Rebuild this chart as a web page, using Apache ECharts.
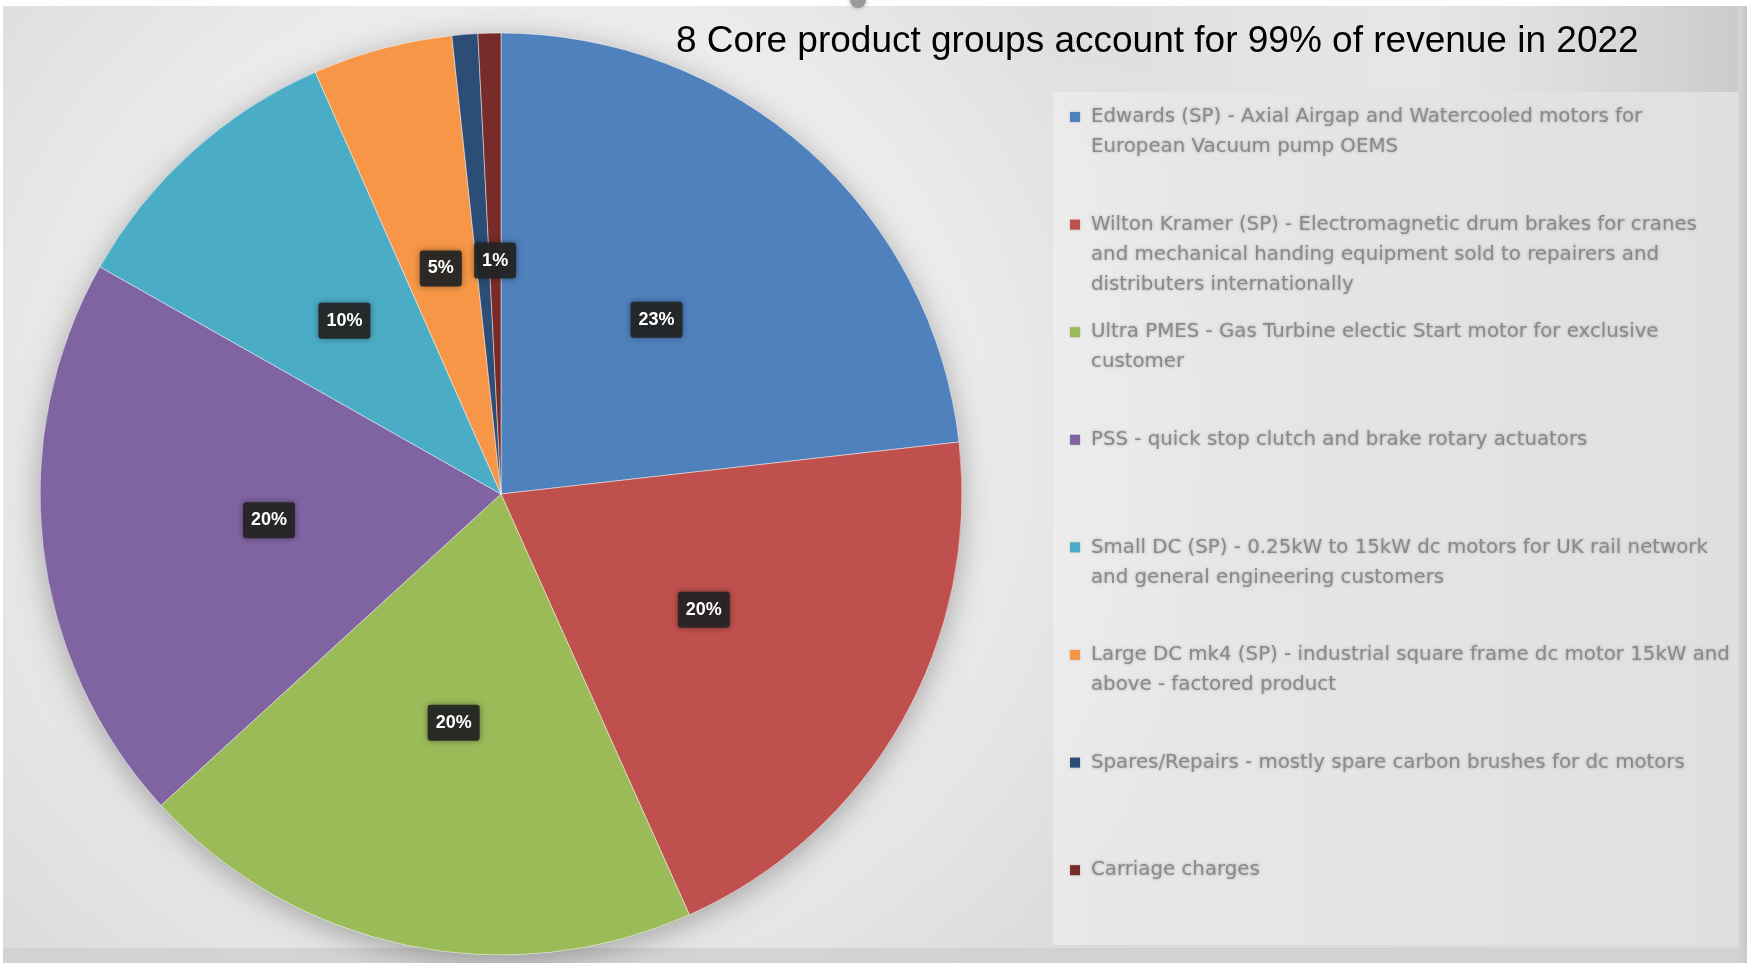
<!DOCTYPE html>
<html><head><meta charset="utf-8">
<script src="https://cdn.jsdelivr.net/npm/echarts@6/dist/echarts.min.js"></script>
<style>html,body{margin:0;padding:0;background:#fff;}#c{width:1747px;height:963px;}</style>
</head><body><div id="c"></div>
<script>
const titleText = '8 Core product groups account for 99% of revenue in 2022';
const categories = [
  'Edwards (SP) - Axial Airgap and Watercooled motors for\nEuropean Vacuum pump OEMS',
  'Wilton Kramer (SP) - Electromagnetic drum brakes for cranes\nand mechanical handing equipment sold to repairers and\ndistributers internationally',
  'Ultra PMES - Gas Turbine electic Start motor for exclusive\ncustomer',
  'PSS - quick stop clutch and brake rotary actuators',
  'Small DC (SP) - 0.25kW to 15kW dc motors for UK rail network\nand general engineering customers',
  'Large DC mk4 (SP) - industrial square frame dc motor 15kW and\nabove - factored product',
  'Spares/Repairs - mostly spare carbon brushes for dc motors',
  'Carriage charges'
];
const values = [23.2, 20.1, 19.9, 20.0, 10.2, 4.9, 0.9, 0.8];
const colors = ['#4F81BD', '#C0504D', '#9BBB59', '#8064A2', '#4BACC6', '#F79646', '#2C4D75', '#772C2A'];

const chart = echarts.init(document.getElementById('c'), null, {renderer: 'canvas'});
const total = values.reduce((a, b) => a + b, 0);
const pieCenter = [501, 494];
const pieRadius = 461;

const legends = categories.map((name, i) => ({
  data: [name],
  orient: 'vertical',
  left: 1065,
  top: 102 + i * 107.6,
  padding: 0,
  icon: 'none',
  itemWidth: 0,
  itemHeight: 10,
  selectedMode: false,
  formatter: n => '{m|}{g|}' + n.split('\n').join('\n{sp|}'),
  textStyle: {
    fontFamily: 'DejaVu Sans',
    fontSize: 19.8,
    lineHeight: 30,
    color: '#8a8a8a',
    textShadowColor: 'rgba(120,120,120,0.6)',
    textShadowBlur: 3,
    rich: {
      m: {width: 10, height: 10, backgroundColor: colors[i], shadowColor: 'rgba(0,0,0,0.2)', shadowBlur: 2},
      g: {width: 11},
      sp: {width: 21}
    }
  }
}));

chart.setOption({
  animation: false,
  backgroundColor: {
    type: 'radial', x: 0.3, y: 0.45, r: 0.75,
    colorStops: [{offset: 0, color: '#f6f6f6'}, {offset: 0.6, color: '#ececec'}, {offset: 1, color: '#dcdcdc'}]
  },
  color: colors,
  title: {
    text: titleText,
    left: 676,
    top: 23,
    padding: 0,
    textStyle: {fontFamily: 'Liberation Sans', fontSize: 37, fontWeight: 'normal', color: '#000'}
  },
  graphic: [
    {type: 'rect', z: 0, shape: {x: 1050, y: 0, width: 697, height: 92},
     style: {fill: {type: 'linear', x: 0, y: 0, x2: 1, y2: 0, colorStops: [{offset: 0, color: 'rgba(250,250,250,0)'}, {offset: 0.55, color: 'rgba(236,236,236,0.6)'}, {offset: 1, color: 'rgba(200,200,200,0.9)'}]}}},
    {type: 'rect', z: 0, shape: {x: 1053, y: 92, width: 687, height: 853},
     style: {fill: {type: 'linear', x: 0, y: 0, x2: 1, y2: 0, colorStops: [{offset: 0, color: 'rgba(242,242,242,0.55)'}, {offset: 1, color: 'rgba(226,226,226,0.6)'}]}}},
    {type: 'rect', z: 0, shape: {x: 1738, y: 0, width: 9, height: 963},
     style: {fill: {type: 'linear', x: 0, y: 0, x2: 1, y2: 0, colorStops: [{offset: 0, color: '#d6d6d6'}, {offset: 1, color: '#c4c4c4'}]}}},
    {type: 'rect', z: 0, shape: {x: 0, y: 948, width: 1747, height: 15}, style: {fill: 'rgba(205,205,205,0.7)'}},
    {type: 'rect', z: 0, shape: {x: 0, y: 0, width: 1747, height: 6}, style: {fill: '#ffffff'}},
    {type: 'rect', z: 0, shape: {x: 0, y: 0, width: 3, height: 963}, style: {fill: '#ffffff'}},
    {type: 'circle', z: 0, shape: {cx: 858, cy: 0, r: 8}, style: {fill: '#9a9a9a', shadowBlur: 4, shadowColor: 'rgba(0,0,0,0.3)'}}
  ],
  legend: legends,
  series: [
    {
      type: 'pie',
      z: 1,
      silent: true,
      center: pieCenter,
      radius: pieRadius,
      label: {show: false},
      labelLine: {show: false},
      data: [{value: total, name: 'total'}],
      itemStyle: {color: '#d8d8d8', shadowBlur: 30, shadowColor: 'rgba(0,0,0,0.3)', shadowOffsetY: 6}
    },
    {
      type: 'pie',
      z: 2,
      center: pieCenter,
      radius: pieRadius,
      startAngle: 90,
      clockwise: true,
      data: categories.map((n, i) => ({name: n, value: values[i]})),
      itemStyle: {borderColor: 'rgba(255,255,255,0.45)', borderWidth: 1},
      labelLine: {show: false},
      label: {
        show: true,
        position: 'inside',
        formatter: p => Math.round(p.percent) + '%',
        fontFamily: 'Liberation Sans',
        fontSize: 18,
        fontWeight: 'bold',
        color: '#ffffff',
        backgroundColor: 'rgba(36,36,36,0.92)',
        padding: [9, 8],
        borderRadius: 3,
        shadowBlur: 6,
        shadowColor: 'rgba(0,0,0,0.45)'
      }
    }
  ]
});
</script>
</body></html>
